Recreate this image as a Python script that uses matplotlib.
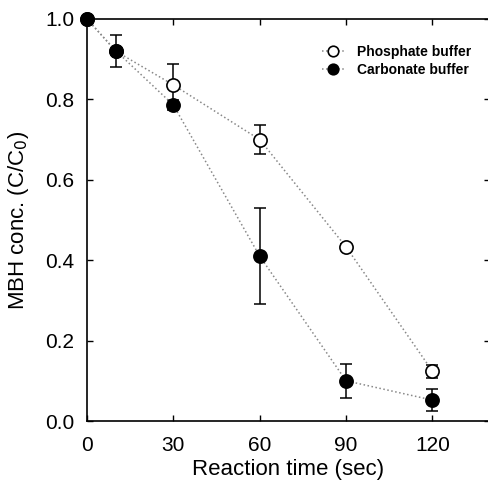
import matplotlib
matplotlib.use("Agg")
import matplotlib.pyplot as plt

plt.rcParams['font.family'] = ['Liberation Sans', 'DejaVu Sans']

# -------------------- data --------------------
time_s = [0, 10, 30, 60, 90, 120]

phosphate = [1.0, 0.92, 0.836, 0.70, 0.433, 0.124]
phosphate_err = [0.0, 0.0, 0.052, 0.037, 0.008, 0.016]

carbonate = [1.0, 0.921, 0.786, 0.41, 0.10, 0.052]
carbonate_err = [0.0, 0.04, 0.012, 0.12, 0.042, 0.027]

xticks = [0, 30, 60, 90, 120]
yticks = [0.0, 0.2, 0.4, 0.6, 0.8, 1.0]

# -------------------- plot --------------------
fig = plt.figure(figsize=(4.88, 4.86), dpi=100)
# right spine sits just outside the picture, as in the original crop
ax = fig.add_axes([87 / 488, 65 / 486, 403 / 488, 402 / 486])

err_style = dict(fmt='none', ecolor='black', elinewidth=1.1,
                 capsize=4, capthick=1.1, clip_on=False)
line_style = dict(color='#888888', ls=':', lw=1.1, marker='o', mec='black',
                  mew=1.2, ms=9.5, clip_on=False)

ax.errorbar(time_s, phosphate, yerr=phosphate_err, zorder=2, **err_style)
ax.errorbar(time_s, carbonate, yerr=carbonate_err, zorder=2, **err_style)
ax.plot(time_s, phosphate, mfc='white', label='Phosphate buffer',
        zorder=3, **line_style)
ax.plot(time_s, carbonate, mfc='black', label='Carbonate buffer',
        zorder=4, **line_style)

ax.set_xlim(0, 140)
ax.set_ylim(0, 1.0)
ax.set_xticks(xticks)
ax.set_yticks(yticks)
ax.set_yticklabels([f'{v:.1f}' for v in yticks])

ax.tick_params(direction='in', length=4, width=1, labelsize=15,
               top=True, right=True)
ax.tick_params(axis='x', pad=11)
ax.tick_params(axis='y', pad=9)
for sp in ax.spines.values():
    sp.set_linewidth(1.2)

ax.set_xlabel('Reaction time (sec)', fontsize=16, labelpad=3)
ax.set_ylabel('MBH conc. (C/C$_0$)', fontsize=16, labelpad=10)

leg = ax.legend(loc='upper left', bbox_to_anchor=(322 / 488, 1 - 45 / 486),
                bbox_transform=fig.transFigure, frameon=False,
                borderaxespad=0, borderpad=0,
                fontsize=10, handlelength=1.65, handletextpad=0.9,
                labelspacing=0.3, numpoints=1, markerscale=0.8)
for t in leg.get_texts():
    t.set_fontweight('bold')

fig.savefig('out.png', dpi=100)
